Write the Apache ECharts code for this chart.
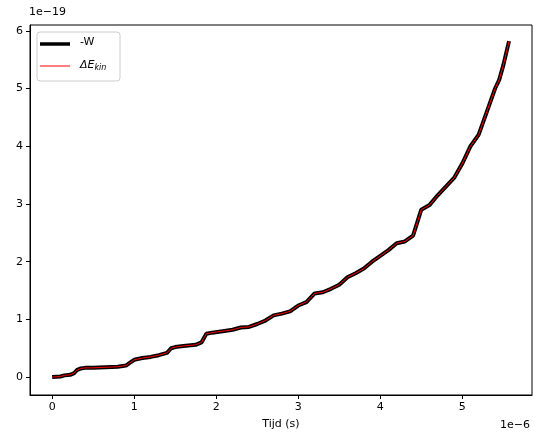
<!DOCTYPE html>
<html><head><meta charset="utf-8">
<script src="https://cdn.jsdelivr.net/npm/echarts@6/dist/echarts.min.js"></script>
<style>html,body{margin:0;padding:0;background:#fff}#c{width:534px;height:448px}</style>
</head><body><div id="c"></div>
<script>
// time in units of 1e-6 s, energy in units of 1e-19 J
const timeVals = [0,0.1,0.15,0.22,0.27,0.3,0.35,0.4,0.5,0.8,0.9,0.95,1.0,1.1,1.2,1.3,1.4,1.45,1.5,1.6,1.75,1.82,1.88,1.95,2.1,2.2,2.3,2.4,2.5,2.6,2.7,2.8,2.9,3.0,3.1,3.2,3.3,3.4,3.5,3.6,3.7,3.8,3.9,4.0,4.1,4.2,4.3,4.4,4.5,4.6,4.7,4.8,4.9,5.0,5.1,5.2,5.3,5.4,5.45,5.5,5.57];
const workVals = [0,0.01,0.03,0.04,0.07,0.12,0.15,0.16,0.16,0.18,0.2,0.25,0.3,0.33,0.35,0.38,0.42,0.5,0.52,0.54,0.56,0.6,0.75,0.77,0.8,0.82,0.86,0.87,0.92,0.98,1.07,1.1,1.14,1.24,1.3,1.45,1.47,1.53,1.6,1.73,1.8,1.88,2.0,2.1,2.2,2.32,2.35,2.45,2.9,2.98,3.15,3.3,3.45,3.7,4.0,4.2,4.6,5.0,5.15,5.4,5.82];
const xTicks = [0,1,2,3,4,5];
const yTicks = [0,1,2,3,4,5,6];
const pts = timeVals.map((t,i)=>[t,workVals[i]]);
const chart = echarts.init(document.getElementById('c'));
const f = 'DejaVu Sans';
chart.setOption({
  animation:false,
  grid:{left:30,right:2,top:25,bottom:53,show:true,borderColor:'#000',borderWidth:1},
  xAxis:{type:'value',min:-0.27,max:5.85,
    axisLine:{show:true,onZero:false,lineStyle:{color:'#000'}},splitLine:{show:false},
    axisTick:{show:true,inside:false,length:4,lineStyle:{color:'#000'},customValues:xTicks},
    axisLabel:{color:'#000',fontFamily:f,fontSize:11,margin:7,customValues:xTicks},
    name:'Tijd (s)',nameLocation:'middle',nameGap:24,nameTextStyle:{color:'#000',fontFamily:f,fontSize:11}},
  yAxis:{type:'value',min:-0.31,max:6.1,
    axisLine:{show:true,onZero:false,lineStyle:{color:'#000'}},splitLine:{show:false},
    axisTick:{show:true,inside:false,length:4,lineStyle:{color:'#000'},customValues:yTicks},
    axisLabel:{color:'#000',fontFamily:f,fontSize:11,margin:7,customValues:yTicks}},
  graphic:[
    {type:'text',left:29,top:7,style:{text:'1e\u221219',fontFamily:f,fontSize:11,fill:'#000'}},
    {type:'text',right:4,top:420,style:{text:'1e\u22126',fontFamily:f,fontSize:11,fill:'#000'}},
    {type:'rect',shape:{x:37,y:32,width:83,height:49,r:3},style:{fill:'rgba(255,255,255,0.8)',stroke:'#ccc',lineWidth:1}},
    {type:'line',shape:{x1:40,y1:44,x2:70,y2:44},style:{stroke:'#000',lineWidth:3.5}},
    {type:'text',x:80,y:37,style:{text:'-W',fontFamily:f,fontSize:11,fill:'#000'}},
    {type:'line',shape:{x1:40,y1:66,x2:70,y2:66},style:{stroke:'#f00',lineWidth:1}},
    {type:'text',x:80,y:58,style:{text:'{a|ΔE}{b|kin}',rich:{a:{fontFamily:f,fontSize:11,fontStyle:'italic',fill:'#000'},b:{fontFamily:f,fontSize:8,fontStyle:'italic',fill:'#000',padding:[6,0,0,0]}}}}
  ],
  series:[
    {type:'line',data:pts,showSymbol:false,lineStyle:{color:'#000',width:4}},
    {type:'line',data:pts,showSymbol:false,lineStyle:{color:'#f00',width:1}}
  ]
});
</script></body></html>
